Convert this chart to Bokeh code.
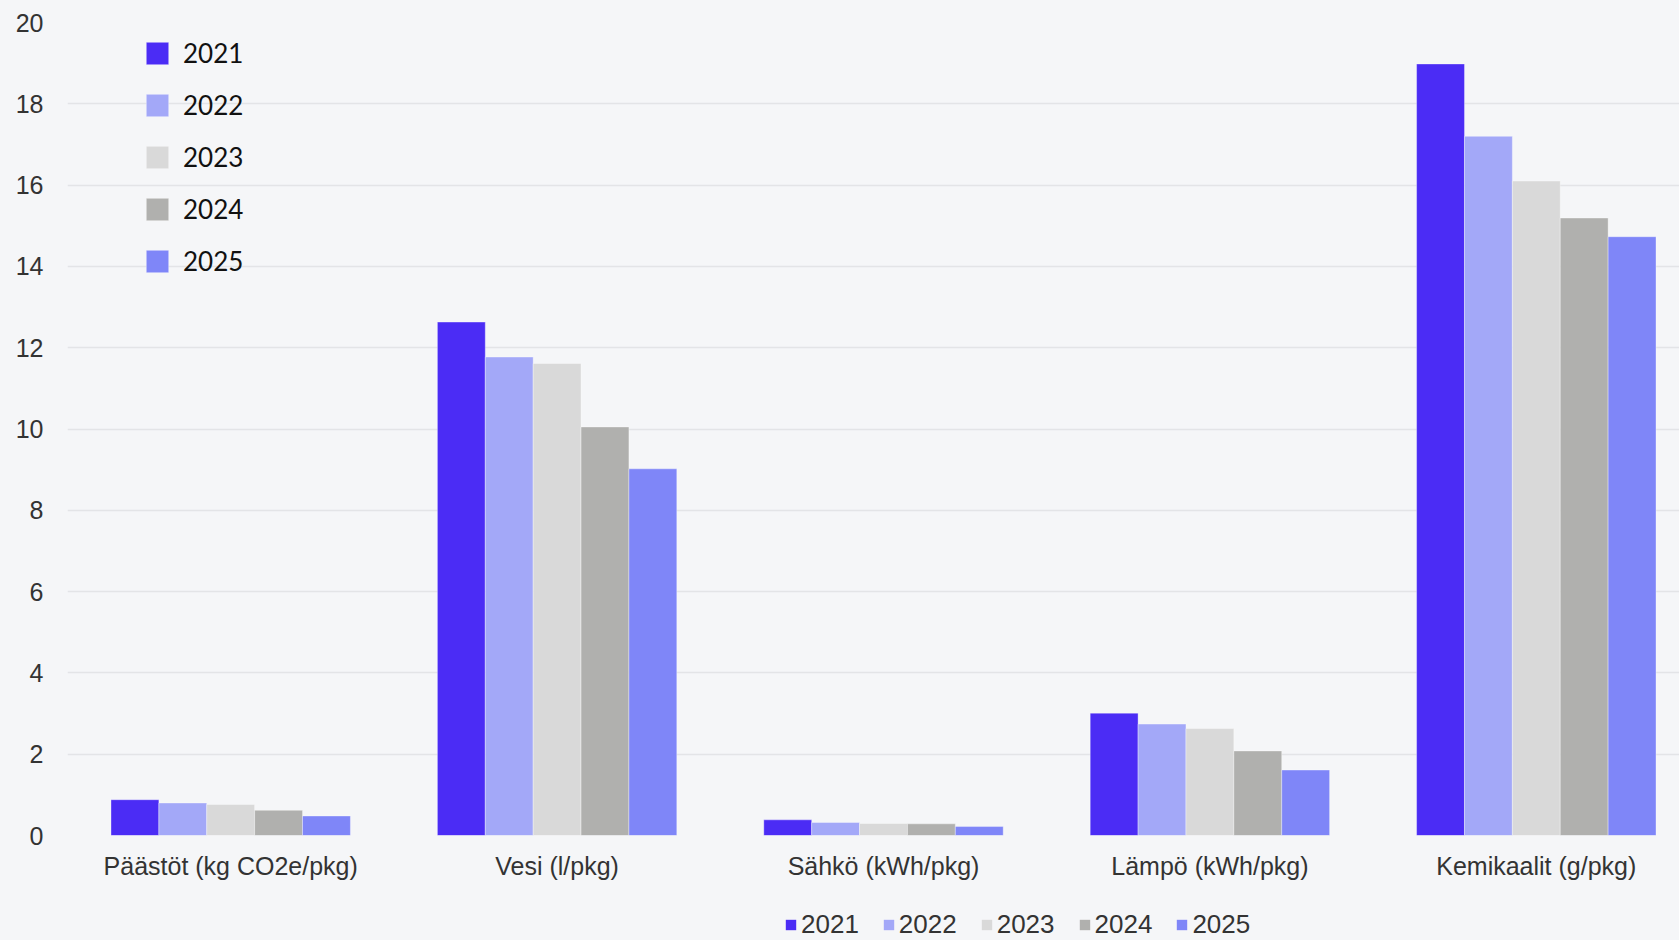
from bokeh.plotting import figure
from bokeh.models import Legend, LegendItem, FixedTicker, Range1d
from bokeh.layouts import column
from bokeh.embed import file_html
from bokeh.resources import INLINE

categories = ["Päästöt (kg CO2e/pkg)", "Vesi (l/pkg)", "Sähkö (kWh/pkg)", "Lämpö (kWh/pkg)", "Kemikaalit (g/pkg)"]
years = ["2021", "2022", "2023", "2024", "2025"]
v2021 = [0.88, 12.63, 0.385, 3.01, 18.98]
v2022 = [0.80, 11.77, 0.32, 2.74, 17.20]
v2023 = [0.765, 11.61, 0.295, 2.63, 16.10]
v2024 = [0.62, 10.05, 0.287, 2.08, 15.19]
v2025 = [0.48, 9.02, 0.22, 1.61, 14.73]
series = [v2021, v2022, v2023, v2024, v2025]
colors = ["#4b2cf5", "#a3a8f8", "#d9d9d9", "#b0b0ae", "#7f86f8"]
y_ticks = [0, 2, 4, 6, 8, 10, 12, 14, 16, 18, 20]

BG = "#f5f6f8"
W = 1679
H_MAIN, H_LEG = 900, 40
frame_left = 67
cat_px = 326.4
frame_w = W - frame_left
x_end = -0.5 + frame_w / cat_px

p = figure(width=W, height=H_MAIN, output_backend="svg", toolbar_location=None,
           x_range=Range1d(-0.5, x_end), y_range=Range1d(0, 20),
           min_border_left=frame_left, min_border_right=0, min_border_top=22,
           min_border_bottom=H_MAIN - 835,
           background_fill_color=BG, border_fill_color=BG, outline_line_color=None)

bw = 0.1467
xs = list(range(len(categories)))
renderers = []
for i, (vals, col) in enumerate(zip(series, colors)):
    off = (i - 2) * bw
    r = p.vbar(x=[x + off for x in xs], top=vals, width=bw, bottom=0,
               fill_color=col, line_color="white", line_alpha=0.35, line_width=1)
    renderers.append(r)

p.xgrid.visible = False
p.ygrid.grid_line_color = "#e3e4e7"
p.ygrid.grid_line_width = 1.5
p.ygrid.ticker = FixedTicker(ticks=y_ticks)

p.yaxis.ticker = FixedTicker(ticks=y_ticks)
p.yaxis.axis_line_color = None
p.yaxis.major_tick_line_color = None
p.yaxis.minor_tick_line_color = None
p.yaxis.major_label_standoff = 18
p.yaxis.major_label_text_font = "Liberation Sans"
p.yaxis.major_label_text_font_size = "25px"
p.yaxis.major_label_text_color = "#333333"

p.xaxis.ticker = FixedTicker(ticks=xs)
p.xaxis.major_label_overrides = {i: c for i, c in enumerate(categories)}
p.xaxis.axis_line_color = None
p.xaxis.major_tick_line_color = None
p.xaxis.minor_tick_line_color = None
p.xaxis.major_label_standoff = 10
p.xaxis.major_label_text_font = "Liberation Sans"
p.xaxis.major_label_text_font_size = "25px"
p.xaxis.major_label_text_color = "#333333"

# top-left legend
items_top = [LegendItem(label=y, renderers=[r]) for y, r in zip(years, renderers)]
leg_top = Legend(items=items_top, location=(76, 558), orientation="vertical",
                 glyph_width=28, glyph_height=28, label_height=28, spacing=20,
                 label_standoff=12, padding=0, margin=0,
                 label_text_font="Lato", label_text_font_size="26px",
                 label_text_color="#111111",
                 background_fill_alpha=0, border_line_color=None)
p.add_layout(leg_top, "center")

# bottom legend (separate strip below the chart)
q = figure(width=W, height=H_LEG, output_backend="svg", toolbar_location=None,
           x_range=Range1d(0, 1), y_range=Range1d(0, 1),
           min_border_left=0, min_border_right=0, min_border_top=0, min_border_bottom=0,
           background_fill_color=BG, border_fill_color=BG, outline_line_color=None)
q.axis.visible = False
q.grid.visible = False
dummies = []
for col in colors:
    # off-screen placeholder bar, only used to draw the legend swatch
    d = q.vbar(x=[5], top=[1], bottom=[0], width=0.1, fill_color=col, line_color=None)
    dummies.append(d)
items_bot = [LegendItem(label=y, renderers=[d]) for y, d in zip(years, dummies)]
leg_bot = Legend(items=items_bot, location=(717, 0), orientation="horizontal",
                 glyph_width=13, glyph_height=13, label_height=26, spacing=23,
                 label_standoff=4, padding=0, margin=0,
                 label_text_font="Liberation Sans", label_text_font_size="26px",
                 label_text_color="#333333",
                 background_fill_alpha=0, border_line_color=None)
q.add_layout(leg_bot, "center")

layout = column(p, q, spacing=0)

html = file_html(layout, INLINE)
html = html.replace("</head>", "<style>html,body{background:#f5f6f8;}</style></head>", 1)
open("out.html", "w").write(html)
